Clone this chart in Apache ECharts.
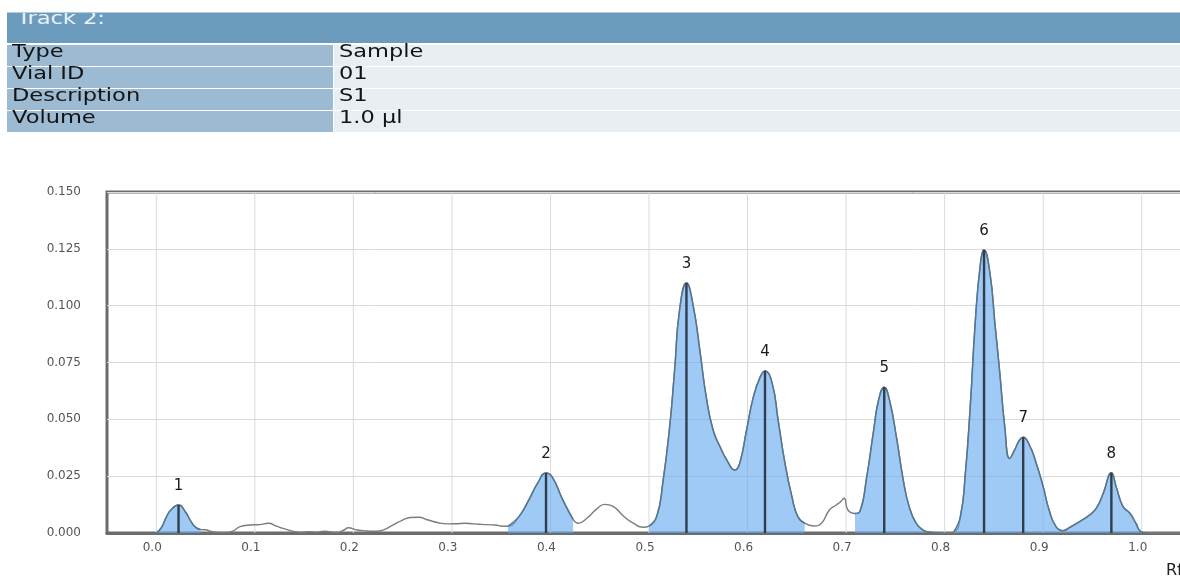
<!DOCTYPE html>
<html>
<head>
<meta charset="utf-8">
<script src="https://cdn.jsdelivr.net/npm/echarts@6/dist/echarts.min.js"></script>
<style>
  html, body { margin: 0; padding: 0; background: #fff; }
  #wrap { position: relative; width: 1180px; height: 582px; overflow: hidden; }
  #chart { position: absolute; left: 0; top: 0; width: 1180px; height: 582px; }
  .cell { position: absolute; overflow: visible; }
  .txt {
    position: absolute; left: 5px; top: -3px; white-space: nowrap;
    font-family: "DejaVu Sans", Verdana, sans-serif; font-size: 18px; line-height: 18px;
    color: #141414; transform: scaleX(1.25); transform-origin: left top;
  }
  #title { position: absolute; left: 7px; top: 12px; width: 1173px; height: 31px;
    background: #6b9bbd; border-top: 1px solid #b3cde0; box-sizing: border-box; overflow: hidden; }
  #title .txt { left: 10px; top: -4px; color: #e9f1f6; }
</style>
</head>
<body>
<div id="wrap">
  <div id="chart"></div>
  <div id="title"><span class="txt" id="titleText"></span></div>
  <div id="rows"></div>
</div>
<script>
// Track header
const trackTitle = 'Track 2:';
const rowLabels = ['Type', 'Vial ID', 'Description', 'Volume'];
const rowValues = ['Sample', '01', 'S1', '1.0 µl'];

// Densitometric trace (Rf vs. signal)
const rfTrace = [
  0.000, 0.005, 0.010, 0.015, 0.030, 0.035, 0.040, 0.045, 0.050, 0.055,
  0.060, 0.070, 0.078, 0.085, 0.095, 0.105, 0.114, 0.122, 0.132, 0.146,
  0.155, 0.163, 0.170, 0.177, 0.183, 0.190, 0.195, 0.204, 0.213, 0.223,
  0.230, 0.240, 0.250, 0.258, 0.266, 0.276, 0.286, 0.296, 0.305, 0.313,
  0.322, 0.330, 0.344, 0.352, 0.357, 0.368, 0.378, 0.387, 0.402, 0.412,
  0.423, 0.428, 0.437, 0.447, 0.455, 0.464, 0.474, 0.484, 0.494, 0.500,
  0.508, 0.514, 0.521, 0.526, 0.531, 0.545, 0.552, 0.558, 0.565, 0.572,
  0.579, 0.587, 0.592, 0.599, 0.606, 0.613, 0.625, 0.631, 0.638, 0.645,
  0.651, 0.658, 0.667, 0.675, 0.683, 0.690, 0.695, 0.698, 0.702, 0.709,
  0.714, 0.721, 0.728, 0.733, 0.744, 0.751, 0.758, 0.764, 0.771, 0.778,
  0.785, 0.795, 0.809, 0.816, 0.821, 0.826, 0.831, 0.836, 0.846, 0.851,
  0.856, 0.861, 0.866, 0.871, 0.876, 0.886, 0.893, 0.900, 0.906, 0.913,
  0.920, 0.927, 0.937, 0.947, 0.954, 0.961, 0.974, 0.981, 0.988, 0.994,
  0.999, 1.005, 1.050
];
const signalTrace = [
  0.0000, 0.0022, 0.0068, 0.0102, 0.0090, 0.0052, 0.0025, 0.0015, 0.0014, 0.0008,
  0.0003, 0.0002, 0.0009, 0.0028, 0.0035, 0.0037, 0.0043, 0.0030, 0.0016, 0.0003,
  0.0006, 0.0004, 0.0008, 0.0005, 0.0003, 0.0012, 0.0023, 0.0013, 0.0009, 0.0008,
  0.0013, 0.0035, 0.0057, 0.0068, 0.0069, 0.0057, 0.0045, 0.0040, 0.0041, 0.0043,
  0.0040, 0.0038, 0.0035, 0.0030, 0.0030, 0.0072, 0.0145, 0.0219, 0.0245, 0.0150,
  0.0060, 0.0043, 0.0065, 0.0106, 0.0126, 0.0116, 0.0075, 0.0043, 0.0025, 0.0030,
  0.0075, 0.0219, 0.0468, 0.0717, 0.0980, 0.0996, 0.0790, 0.0600, 0.0453, 0.0380,
  0.0321, 0.0277, 0.0306, 0.0453, 0.0600, 0.0688, 0.0658, 0.0497, 0.0306, 0.0160,
  0.0072, 0.0043, 0.0031, 0.0043, 0.0101, 0.0123, 0.0140, 0.0153, 0.0100, 0.0086,
  0.0095, 0.0248, 0.0453, 0.0585, 0.0585, 0.0424, 0.0233, 0.0116, 0.0043, 0.0013,
  0.0003, 0.0000, 0.0004, 0.0072, 0.0260, 0.0556, 0.0922, 0.1172, 0.1142, 0.0922,
  0.0702, 0.0468, 0.0328, 0.0365, 0.0409, 0.0387, 0.0306, 0.0204, 0.0101, 0.0028,
  0.0010, 0.0025, 0.0050, 0.0079, 0.0109, 0.0175, 0.0204, 0.0116, 0.0087, 0.0043,
  0.0006, 0.0000, 0.0000
];

// Detected peaks
const peakLabels = ['1', '2', '3', '4', '5', '6', '7', '8'];
const peakRf = [0.0226, 0.3955, 0.538, 0.6177, 0.7387, 0.840, 0.8797, 0.9692];
const peakSignal = [0.0123, 0.0264, 0.1100, 0.0713, 0.0641, 0.1245, 0.0421, 0.0265];

// Integrated zones (Rf start, Rf end)
const zoneStart = [0.000, 0.357, 0.500, 0.709, 0.809];
const zoneEnd = [0.045, 0.423, 0.658, 0.795, 1.005];

// Axis ticks
const xTicks = [0.0, 0.1, 0.2, 0.3, 0.4, 0.5, 0.6, 0.7, 0.8, 0.9, 1.0];
const yMin = 0, yMax = 0.15, yStep = 0.025;
const axisName = 'Rf';

// ---- header table ----
document.getElementById('titleText').textContent = trackTitle;
const rowsEl = document.getElementById('rows');
rowLabels.forEach((lab, i) => {
  const top = 45 + 22 * i;
  const l = document.createElement('div');
  l.className = 'cell';
  l.style.cssText = `left:7px;top:${top}px;width:326px;height:21px;background:#9cbad1;`;
  l.innerHTML = '<span class="txt"></span>';
  l.firstChild.textContent = lab;
  const r = document.createElement('div');
  r.className = 'cell';
  r.style.cssText = `left:334px;top:${top}px;width:846px;height:21px;background:#e8eef1;`;
  r.innerHTML = '<span class="txt"></span>';
  r.firstChild.textContent = rowValues[i];
  rowsEl.appendChild(l);
  rowsEl.appendChild(r);
});

// ---- chart ----
const points = rfTrace.map((x, i) => [x, signalTrace[i]])
  .concat(peakRf.map((x, i) => [x, peakSignal[i]]))
  .sort((a, b) => a[0] - b[0]);

const smooth = 0.5;
const zoneSeries = zoneStart.map((a, i) => ({
  type: 'line',
  data: points.filter(p => p[0] >= a - 1e-9 && p[0] <= zoneEnd[i] + 1e-9),
  smooth: smooth,
  symbol: 'none',
  silent: true,
  z: 3,
  lineStyle: { color: '#56768f', width: 1.5 },
  areaStyle: { color: 'rgba(100, 170, 240, 0.62)', opacity: 1, origin: 'start' }
}));

const chart = echarts.init(document.getElementById('chart'), null, { renderer: 'canvas' });
chart.setOption({
  animation: false,
  backgroundColor: '#ffffff',
  grid: {
    left: 107, top: 192, width: 1084, height: 341,
    containLabel: false, outerBoundsMode: 'none',
    show: true, borderColor: '#6c6c6c', borderWidth: 3, backgroundColor: 'transparent'
  },
  xAxis: {
    type: 'value', min: -0.05, max: 1.05,
    axisLine: { show: true, lineStyle: { color: '#6c6c6c', width: 3 } },
    axisTick: { show: false },
    splitLine: { show: false },
    axisLabel: {
      customValues: xTicks,
      formatter: v => v.toFixed(1),
      fontFamily: 'DejaVu Sans', fontSize: 12, color: '#555',
      margin: 9, padding: [0, 8, 0, 0]
    }
  },
  yAxis: {
    type: 'value', min: yMin, max: yMax, interval: yStep,
    axisLine: { show: false },
    axisTick: { show: false },
    splitLine: { lineStyle: { color: '#dadada', width: 1 } },
    axisLabel: {
      formatter: v => v.toFixed(3),
      fontFamily: 'DejaVu Sans', fontSize: 12, color: '#555', margin: 26
    }
  },
  graphic: [{
    type: 'text', left: 1166, top: 563,
    style: { text: axisName, font: '16px "DejaVu Sans"', fill: '#222' }
  }],
  series: [
    {
      // vertical grid lines at each Rf tick
      type: 'custom',
      data: xTicks,
      silent: true,
      z: 1,
      renderItem: (params, api) => {
        const p0 = api.coord([api.value(0), yMax]);
        const p1 = api.coord([api.value(0), yMin]);
        return {
          type: 'line',
          shape: { x1: p0[0], y1: p0[1], x2: p1[0], y2: p1[1] },
          style: { stroke: '#dadada', lineWidth: 1 }
        };
      }
    },
    {
      type: 'line',
      data: points,
      smooth: smooth,
      symbol: 'none',
      silent: true,
      z: 2,
      lineStyle: { color: '#7c7c7c', width: 1.4 }
    },
    ...zoneSeries,
    {
      // peak markers with numbers
      type: 'custom',
      data: peakRf.map((x, i) => [x, peakSignal[i], i]),
      silent: true,
      z: 5,
      renderItem: (params, api) => {
        const top = api.coord([api.value(0), api.value(1)]);
        const base = api.coord([api.value(0), 0]);
        return {
          type: 'group',
          children: [
            {
              type: 'line',
              shape: { x1: base[0], y1: base[1], x2: top[0], y2: top[1] },
              style: { stroke: '#2f3d4c', lineWidth: 2.4 }
            },
            {
              type: 'text',
              x: top[0], y: top[1] - 19,
              style: {
                text: peakLabels[api.value(2)],
                font: '15px "DejaVu Sans"', fill: '#1a1a1a',
                align: 'center', verticalAlign: 'middle'
              }
            }
          ]
        };
      }
    }
  ]
});
</script>
</body>
</html>
